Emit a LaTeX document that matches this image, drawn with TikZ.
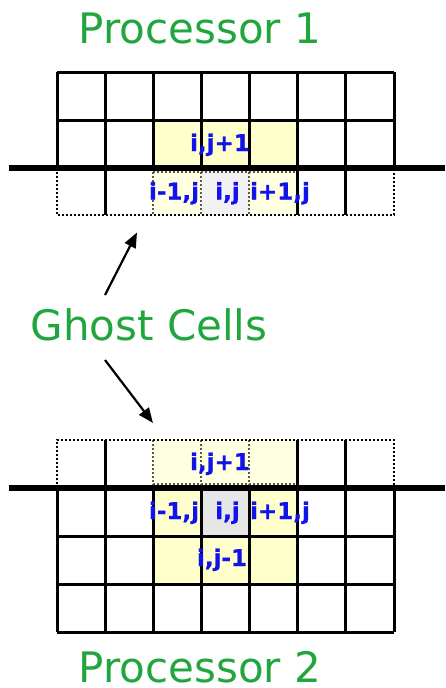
\documentclass[tikz,border=0pt]{standalone}
\usepackage{fontspec}
\setmainfont{DejaVu Sans}
\newfontfamily\cellfont[FakeBold=0.8]{DejaVu Sans Bold}
\usetikzlibrary{arrows.meta}
\definecolor{titlegreen}{RGB}{33,166,62}
\definecolor{labelblue}{RGB}{18,18,235}
\definecolor{cellyellow}{RGB}{255,255,204}
\definecolor{cellgray}{RGB}{230,230,230}
\definecolor{ghostyellow}{RGB}{255,255,226}
\definecolor{ghostgray}{RGB}{242,242,242}
\definecolor{ghostedge}{RGB}{90,90,70}
\tikzset{
  gridline/.style={line width=3pt, black},
  ghostline/.style={line width=2.6pt, black, dash pattern=on 2.2pt off 1.8pt},
  ghostcell/.style={line width=2pt, ghostedge, dash pattern=on 2pt off 2pt},
  boundary/.style={line width=6pt, black},
  title/.style={text=titlegreen, font=\fontsize{42}{50}\selectfont, anchor=base, inner sep=0pt},
  celllabel/.style={text=labelblue, font=\cellfont\fontsize{23}{27}\selectfont, anchor=base, inner sep=0pt},
  pointer/.style={line width=2.2pt, black, -{Triangle[length=15pt,width=12pt]}}
}
\begin{document}
\begin{tikzpicture}[x=1pt, y=-1pt]
\useasboundingbox (0,0) rectangle (445,688);

% ---------------- Processor 1 ----------------
% highlighted stencil cells
\fill[cellyellow] (153,120) rectangle (297,168);
\fill[ghostyellow] (153,168) rectangle (201,215);
\fill[ghostgray] (201,168) rectangle (249,215);
\fill[ghostyellow] (249,168) rectangle (297,215);
% owned rows
\foreach \y in {72,120} \draw[gridline] (57,\y) -- (394,\y);
\foreach \x in {57,105,153,201,249,297,345,394} \draw[gridline] (\x,72) -- (\x,168);
% ghost row
\foreach \x in {105,297,345} \draw[gridline] (\x,168) -- (\x,215);
\foreach \x in {153,201,249} \draw[ghostcell] (\x,168) -- (\x,215);
\draw[ghostcell] (153,172) -- (297,172);
\draw[ghostline] (57,168) -- (57,215) -- (394,215) -- (394,168);
% processor boundary
\draw[boundary] (9,167.7) -- (445,167.7);

% ---------------- Processor 2 ----------------
\fill[ghostyellow] (153,440) rectangle (297,488);
\fill[cellyellow] (153,488) rectangle (201,536);
\fill[cellgray] (201,488) rectangle (249,536);
\fill[cellyellow] (249,488) rectangle (297,536);
\fill[cellyellow] (153,536) rectangle (297,584);
% owned rows
\foreach \y in {536,584,632} \draw[gridline] (57,\y) -- (394,\y);
\foreach \x in {57,105,153,201,249,297,345,394} \draw[gridline] (\x,488) -- (\x,632);
% ghost row
\foreach \x in {105,297,345} \draw[gridline] (\x,440) -- (\x,488);
\foreach \x in {153,201,249} \draw[ghostcell] (\x,440) -- (\x,488);
\draw[ghostcell] (153,484) -- (297,484);
\draw[ghostline] (57,488) -- (57,440) -- (394,440) -- (394,488);
% processor boundary
\draw[boundary] (9,488.3) -- (445,488.3);

% ---------------- labels ----------------
\node[title] (p1) at (200,43) {Processor 1};
\node[title] (gc) at (149,340) {Ghost Cells};
\node[title] (p2) at (200,682.5) {Processor 2};

\node[celllabel] (a1) at (220,151) {i,j+1};
\node[celllabel] (a2) at (174,199.5) {i-1,j};
\node[celllabel] (a3) at (227.5,199.5) {i,j};
\node[celllabel] (a4) at (280,199.5) {i+1,j};

\node[celllabel] (b1) at (220,470) {i,j+1};
\node[celllabel] (b2) at (174,519) {i-1,j};
\node[celllabel] (b3) at (227.5,519) {i,j};
\node[celllabel] (b4) at (280,519) {i+1,j};
\node[celllabel] (b5) at (222,566) {i,j-1};

% ---------------- pointers ----------------
\coordinate (upfrom) at (105,295);
\coordinate (upto) at (137,232.5);
\coordinate (downfrom) at (105,360);
\coordinate (downto) at (153,423);
\draw[pointer] (upfrom) -- (upto);
\draw[pointer] (downfrom) -- (downto);
\end{tikzpicture}
\end{document}
